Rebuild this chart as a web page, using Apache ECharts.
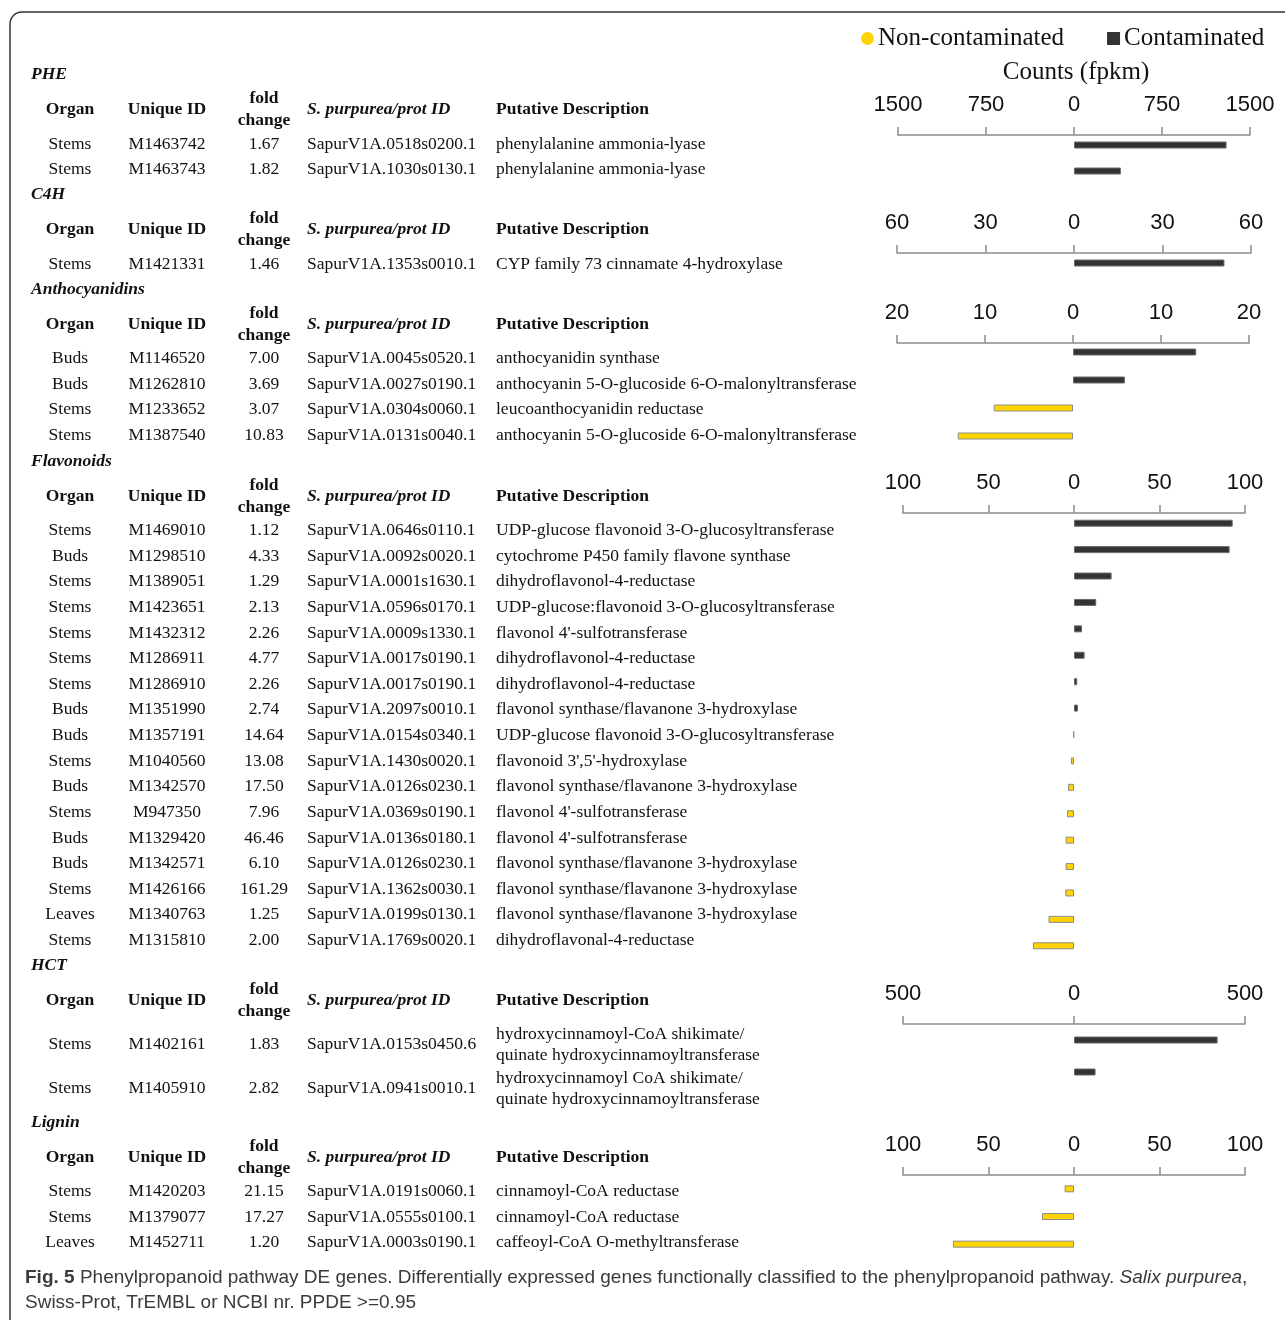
<!DOCTYPE html>
<html>
<head>
<meta charset="utf-8">
<title>Phenylpropanoid pathway DE genes</title>
<script src="https://cdn.jsdelivr.net/npm/echarts@6/dist/echarts.min.js"></script>
<style>
  html, body { margin: 0; padding: 0; background: #fff; }
  #chart { width: 1285px; height: 1320px; }
</style>
</head>
<body>
<div id="chart"></div>
<script>
// ---- Data: one group of small arrays per pathway step ----
const sectionTitles = ['PHE', 'C4H', 'Anthocyanidins', 'Flavonoids', 'HCT', 'Lignin'];

const pheOrgan = ['Stems', 'Stems'];
const pheId = ['M1463742', 'M1463743'];
const pheFold = ['1.67', '1.82'];
const pheProt = ['SapurV1A.0518s0200.1', 'SapurV1A.1030s0130.1'];
const pheDesc = ['phenylalanine ammonia-lyase', 'phenylalanine ammonia-lyase'];
const pheCont = [1300, 400];
const pheNon = [null, null];
const pheAxis = [1500, 750];

const c4hOrgan = ['Stems'];
const c4hId = ['M1421331'];
const c4hFold = ['1.46'];
const c4hProt = ['SapurV1A.1353s0010.1'];
const c4hDesc = ['CYP family 73 cinnamate 4-hydroxylase'];
const c4hCont = [51];
const c4hNon = [null];
const c4hAxis = [60, 30];

const antOrgan = ['Buds', 'Buds', 'Stems', 'Stems'];
const antId = ['M1146520', 'M1262810', 'M1233652', 'M1387540'];
const antFold = ['7.00', '3.69', '3.07', '10.83'];
const antProt = ['SapurV1A.0045s0520.1', 'SapurV1A.0027s0190.1', 'SapurV1A.0304s0060.1', 'SapurV1A.0131s0040.1'];
const antDesc = ['anthocyanidin synthase', 'anthocyanin 5-O-glucoside 6-O-malonyltransferase',
  'leucoanthocyanidin reductase', 'anthocyanin 5-O-glucoside 6-O-malonyltransferase'];
const antCont = [14.0, 5.9, null, null];
const antNon = [null, null, 9.0, 13.1];
const antAxis = [20, 10];

const flaOrgan = ['Stems', 'Buds', 'Stems', 'Stems', 'Stems', 'Stems', 'Stems', 'Buds', 'Buds', 'Stems',
  'Buds', 'Stems', 'Buds', 'Buds', 'Stems', 'Leaves', 'Stems'];
const flaId = ['M1469010', 'M1298510', 'M1389051', 'M1423651', 'M1432312', 'M1286911', 'M1286910', 'M1351990',
  'M1357191', 'M1040560', 'M1342570', 'M947350', 'M1329420', 'M1342571', 'M1426166', 'M1340763', 'M1315810'];
const flaFold = ['1.12', '4.33', '1.29', '2.13', '2.26', '4.77', '2.26', '2.74', '14.64', '13.08', '17.50',
  '7.96', '46.46', '6.10', '161.29', '1.25', '2.00'];
const flaProt = ['SapurV1A.0646s0110.1', 'SapurV1A.0092s0020.1', 'SapurV1A.0001s1630.1', 'SapurV1A.0596s0170.1',
  'SapurV1A.0009s1330.1', 'SapurV1A.0017s0190.1', 'SapurV1A.0017s0190.1', 'SapurV1A.2097s0010.1',
  'SapurV1A.0154s0340.1', 'SapurV1A.1430s0020.1', 'SapurV1A.0126s0230.1', 'SapurV1A.0369s0190.1',
  'SapurV1A.0136s0180.1', 'SapurV1A.0126s0230.1', 'SapurV1A.1362s0030.1', 'SapurV1A.0199s0130.1',
  'SapurV1A.1769s0020.1'];
const flaDesc = ['UDP-glucose flavonoid 3-O-glucosyltransferase', 'cytochrome P450 family flavone synthase',
  'dihydroflavonol-4-reductase', 'UDP-glucose:flavonoid 3-O-glucosyltransferase', "flavonol 4'-sulfotransferase",
  'dihydroflavonol-4-reductase', 'dihydroflavonol-4-reductase', 'flavonol synthase/flavanone 3-hydroxylase',
  'UDP-glucose flavonoid 3-O-glucosyltransferase', "flavonoid 3',5'-hydroxylase",
  'flavonol synthase/flavanone 3-hydroxylase', "flavonol 4'-sulfotransferase", "flavonol 4'-sulfotransferase",
  'flavonol synthase/flavanone 3-hydroxylase', 'flavonol synthase/flavanone 3-hydroxylase',
  'flavonol synthase/flavanone 3-hydroxylase', 'dihydroflavonal-4-reductase'];
const flaCont = [92.8, 91.0, 22.0, 13.0, 4.7, 6.2, 1.9, 2.3, null, null, null, null, null, null, null, null, null];
const flaNon = [null, null, null, null, null, null, null, null, 0.3, 1.8, 3.5, 4.1, 4.9, 4.9, 5.1, 14.9, 24.0];
const flaAxis = [100, 50];

const hctOrgan = ['Stems', 'Stems'];
const hctId = ['M1402161', 'M1405910'];
const hctFold = ['1.83', '2.82'];
const hctProt = ['SapurV1A.0153s0450.6', 'SapurV1A.0941s0010.1'];
const hctDesc = ['hydroxycinnamoyl-CoA shikimate/\nquinate hydroxycinnamoyltransferase',
  'hydroxycinnamoyl CoA shikimate/\nquinate hydroxycinnamoyltransferase'];
const hctCont = [420, 63];
const hctNon = [null, null];
const hctAxis = [500, 500];

const ligOrgan = ['Stems', 'Stems', 'Leaves'];
const ligId = ['M1420203', 'M1379077', 'M1452711'];
const ligFold = ['21.15', '17.27', '1.20'];
const ligProt = ['SapurV1A.0191s0060.1', 'SapurV1A.0555s0100.1', 'SapurV1A.0003s0190.1'];
const ligDesc = ['cinnamoyl-CoA reductase', 'cinnamoyl-CoA reductase', 'caffeoyl-CoA O-methyltransferase'];
const ligCont = [null, null, null];
const ligNon = [5.5, 18.7, 70.8];
const ligAxis = [100, 50];

// ---- Layout ----
const sections = [
  { organ: pheOrgan, id: pheId, fold: pheFold, prot: pheProt, desc: pheDesc, cont: pheCont, non: pheNon, axis: pheAxis,
    titleY: 74, rowStep: 25.6, firstRow: 70, grid: { left: 898, width: 352, top: 132, height: 52 }, offset: -3 },
  { organ: c4hOrgan, id: c4hId, fold: c4hFold, prot: c4hProt, desc: c4hDesc, cont: c4hCont, non: c4hNon, axis: c4hAxis,
    titleY: 194, rowStep: 25.6, firstRow: 70.5, grid: { left: 897, width: 354, top: 250, height: 26 }, offset: -3 },
  { organ: antOrgan, id: antId, fold: antFold, prot: antProt, desc: antDesc, cont: antCont, non: antNon, axis: antAxis,
    titleY: 289, rowStep: 25.6, firstRow: 69.5, grid: { left: 897, width: 352, top: 338, height: 112 }, offset: -5 },
  { organ: flaOrgan, id: flaId, fold: flaFold, prot: flaProt, desc: flaDesc, cont: flaCont, non: flaNon, axis: flaAxis,
    titleY: 461, rowStep: 25.62, firstRow: 69.5, grid: { left: 903, width: 342, top: 510, height: 449 }, offset: -3 },
  { organ: hctOrgan, id: hctId, fold: hctFold, prot: hctProt, desc: hctDesc, cont: hctCont, non: hctNon, axis: hctAxis,
    titleY: 965, rowStep: 44, firstRow: 79.5, grid: { left: 903, width: 342, top: 1024, height: 64 }, offset: 0 },
  { organ: ligOrgan, id: ligId, fold: ligFold, prot: ligProt, desc: ligDesc, cont: ligCont, non: ligNon, axis: ligAxis,
    titleY: 1122, rowStep: 25.6, firstRow: 69.5, grid: { left: 903, width: 342, top: 1175, height: 83 }, offset: 0 }
];

const SERIF = '"Liberation Serif", "Times New Roman", serif';
const fReg = '17.5px ' + SERIF;
const fBold = 'bold 17.5px ' + SERIF;
const fBoldIt = 'italic bold 17.5px ' + SERIF;
const INK = '#111';

const COL_ORGAN = 70, COL_ID = 167, COL_FOLD = 264, COL_PROT = 307, COL_DESC = 496;

const elements = [];
function addText(x, y, text, font, align, extra) {
  elements.push({
    type: 'text', x: x, y: y, silent: true,
    style: Object.assign({ text: text, font: font, fill: INK, textAlign: align, textVerticalAlign: 'middle' }, extra || {})
  });
}

// Frame around the figure
elements.push({
  type: 'rect', silent: true,
  shape: { x: 10, y: 12, width: 1320, height: 1360, r: 12 },
  style: { fill: null, stroke: '#333', lineWidth: 1.5 }
});

// Table text for each section
sections.forEach(function (s, k) {
  const t = s.titleY;
  addText(31, t, sectionTitles[k], fBoldIt, 'left');
  const h = t + 35.5;
  addText(COL_ORGAN, h, 'Organ', fBold, 'center');
  addText(COL_ID, h, 'Unique ID', fBold, 'center');
  addText(COL_FOLD, h - 11, 'fold', fBold, 'center');
  addText(COL_FOLD, h + 11, 'change', fBold, 'center');
  addText(COL_PROT, h, 'S. purpurea/prot ID', fBoldIt, 'left');
  addText(COL_DESC, h, 'Putative Description', fBold, 'left');
  s.organ.forEach(function (o, i) {
    const y = t + s.firstRow + i * s.rowStep;
    addText(COL_ORGAN, y, o, fReg, 'center');
    addText(COL_ID, y, s.id[i], fReg, 'center');
    addText(COL_FOLD, y, s.fold[i], fReg, 'center');
    addText(COL_PROT, y, s.prot[i], fReg, 'left');
    addText(COL_DESC, y, s.desc[i], fReg, 'left', { lineHeight: 21 });
  });
});

// Axis caption
addText(1076, 72, 'Counts (fpkm)', '25px ' + SERIF, 'center');

// Figure caption
const SANS = '"Liberation Sans", Arial, sans-serif';
const CAP = 19;
elements.push({
  type: 'text', x: 25, y: 1278, silent: true,
  style: {
    text: '{b|Fig. 5} Phenylpropanoid pathway DE genes. Differentially expressed genes functionally classified to the phenylpropanoid pathway. {i|Salix purpurea},',
    font: CAP + 'px ' + SANS, fill: '#3a3a3a', textAlign: 'left', textVerticalAlign: 'middle',
    rich: {
      b: { fontFamily: SANS, fontSize: CAP, fontWeight: 'bold', color: '#222' },
      i: { fontFamily: SANS, fontSize: CAP, fontStyle: 'italic', color: '#3a3a3a' }
    }
  }
});
addText(25, 1303, 'Swiss-Prot, TrEMBL or NCBI nr. PPDE >=0.95', CAP + 'px ' + SANS, 'left', { fill: '#3a3a3a' });

// ---- Bar panels ----
const grids = [], xAxes = [], yAxes = [], series = [];
const AXIS_GRAY = '#8c8c8c';
sections.forEach(function (s, k) {
  grids.push(Object.assign({ containLabel: false, outerBoundsMode: 'none' }, s.grid));
  xAxes.push({
    type: 'value', gridIndex: k, position: 'top', offset: s.offset,
    min: -s.axis[0], max: s.axis[0], interval: s.axis[1],
    axisLine: { show: true, lineStyle: { color: AXIS_GRAY, width: 1.5 } },
    axisTick: { show: true, length: 8, lineStyle: { color: AXIS_GRAY, width: 1.5 } },
    splitLine: { show: false },
    axisLabel: {
      formatter: function (v) { return String(Math.abs(v)); },
      fontSize: 22, fontFamily: SANS, color: INK, margin: 19
    }
  });
  yAxes.push({ type: 'category', gridIndex: k, data: s.id, inverse: true, show: false });
  series.push({
    type: 'bar', name: 'Contaminated', xAxisIndex: k, yAxisIndex: k,
    data: s.cont, barWidth: 7, barGap: '-100%',
    itemStyle: { color: '#333333', borderColor: '#6a6a6a', borderWidth: 1 },
    emphasis: { disabled: true }
  });
  series.push({
    type: 'bar', name: 'Non-contaminated', xAxisIndex: k, yAxisIndex: k,
    data: s.non.map(function (v) { return v == null ? null : -v; }), barWidth: 7, barGap: '-100%',
    itemStyle: { color: '#FFD400', borderColor: '#8c8c8c', borderWidth: 1 },
    emphasis: { disabled: true }
  });
});

const chart = echarts.init(document.getElementById('chart'), null, { renderer: 'canvas' });
chart.setOption({
  animation: false,
  backgroundColor: '#fff',
  legend: {
    left: 856, top: 21, itemGap: 43, itemWidth: 13, itemHeight: 13,
    selectedMode: false,
    itemStyle: { borderWidth: 0 },
    textStyle: { fontFamily: SERIF, fontSize: 25, color: INK, padding: [0, 0, 0, -1] },
    data: [{ name: 'Non-contaminated', icon: 'circle' }, { name: 'Contaminated', icon: 'rect' }]
  },
  grid: grids,
  xAxis: xAxes,
  yAxis: yAxes,
  series: series,
  graphic: { elements: elements }
});
</script>
</body>
</html>
